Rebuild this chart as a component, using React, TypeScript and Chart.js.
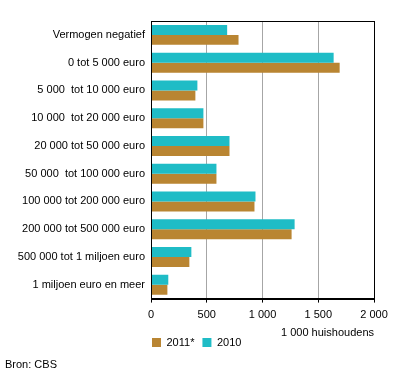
import React, { useEffect, useRef } from "react";
import { Chart, registerables } from "chart.js";
Chart.register(...registerables);

const categories = [
  "Vermogen negatief",
  "0 tot 5 000 euro",
  "5 000  tot 10 000 euro",
  "10 000  tot 20 000 euro",
  "20 000 tot 50 000 euro",
  "50 000  tot 100 000 euro",
  "100 000 tot 200 000 euro",
  "200 000 tot 500 000 euro",
  "500 000 tot 1 miljoen euro",
  "1 miljoen euro en meer",
];
const values2011 = [785, 1692, 398, 470, 704, 587, 928, 1261, 344, 147];
const values2010 = [683, 1638, 416, 470, 704, 587, 937, 1288, 362, 155];
const xTickValues = [0, 500, 1000, 1500, 2000];
const xAxisTitle = "1 000 huishoudens";
const sourceText = "Bron: CBS";

const TEAL = "#1fbcc6";
const BROWN = "#b98532";
const FONT = "'Liberation Sans', Arial, sans-serif";

const fmt = (v: number) => {
  const s = Math.round(v).toString();
  return s.replace(/\B(?=(\d{3})+(?!\d))/g, " ");
};

const frame = {
  id: "frame",
  afterLayout(chart: any) {
    if (chart.legend) {
      chart.legend.left -= 7;
      chart.legend.right -= 7;
    }
  },
  afterDatasetsDraw(chart: any) {
    const { ctx, chartArea } = chart;
    ctx.save();
    ctx.strokeStyle = "#000";
    ctx.lineWidth = 1;
    ctx.strokeRect(
      Math.round(chartArea.left) + 0.5,
      Math.round(chartArea.top) + 0.5,
      Math.round(chartArea.right - chartArea.left),
      Math.round(chartArea.bottom - chartArea.top)
    );
    ctx.restore();
  },
};

export default function App() {
  const ref = useRef<HTMLCanvasElement | null>(null);
  useEffect(() => {
    if (!ref.current) return;
    const chart = new Chart(ref.current, {
      type: "bar",
      data: {
        labels: categories,
        datasets: [
          {
            label: "2010",
            data: values2010,
            backgroundColor: TEAL,
            borderWidth: 0,
          },
          {
            label: "2011*",
            data: values2011,
            backgroundColor: BROWN,
            borderWidth: 0,
          },
        ],
      },
      plugins: [frame],
      options: {
        indexAxis: "y",
        animation: false,
        responsive: false,
        maintainAspectRatio: false,
        datasets: {
          bar: { categoryPercentage: 0.72, barPercentage: 1 },
        },
        layout: { padding: { top: 21, right: 22, left: 0, bottom: 25 } },
        scales: {
          x: {
            min: 0,
            max: 2000,
            afterBuildTicks: (s: any) => {
              s.ticks = xTickValues.map((v) => ({ value: v }));
            },
            ticks: {
              color: "#000",
              font: { family: FONT, size: 11 },
              padding: 6,
              callback: (v: any) => fmt(Number(v)),
              maxRotation: 0,
            },
            grid: {
              color: "#a6a6a6",
              tickColor: "#000",
              tickLength: 4,
              drawTicks: true,
            },
            border: { display: true, color: "#000" },
            title: {
              display: true,
              text: xAxisTitle,
              align: "end",
              color: "#000",
              font: { family: FONT, size: 11 },
              padding: { top: -1, bottom: -11 },
            },
          },
          y: {
            afterFit: (s: any) => {
              s.width = 151;
            },
            ticks: {
              color: "#000",
              font: { family: FONT, size: 11 },
              padding: 6,
            },
            grid: { display: false, drawTicks: false },
            border: { display: true, color: "#000" },
          },
        },
        plugins: {
          legend: {
            position: "bottom",
            align: "start",
            fullSize: false,
            reverse: true,
            labels: {
              boxWidth: 9,
              boxHeight: 9,
              padding: 8,
              color: "#000",
              font: { family: FONT, size: 11 },
            },
          },
          tooltip: { enabled: false },
        },
      } as any,
    });
    return () => chart.destroy();
  }, []);
  return (
    <div style={{ position: "fixed", left: 0, top: 0, width: 396, height: 383, background: "#fff" }}>
      <canvas ref={ref} width={396} height={383} style={{ display: "block" }} />
      <div
        style={{
          position: "absolute",
          left: 5,
          top: 358,
          fontFamily: FONT,
          fontSize: 11,
          color: "#000",
          lineHeight: "13px",
        }}
      >
        {sourceText}
      </div>
    </div>
  );
}
